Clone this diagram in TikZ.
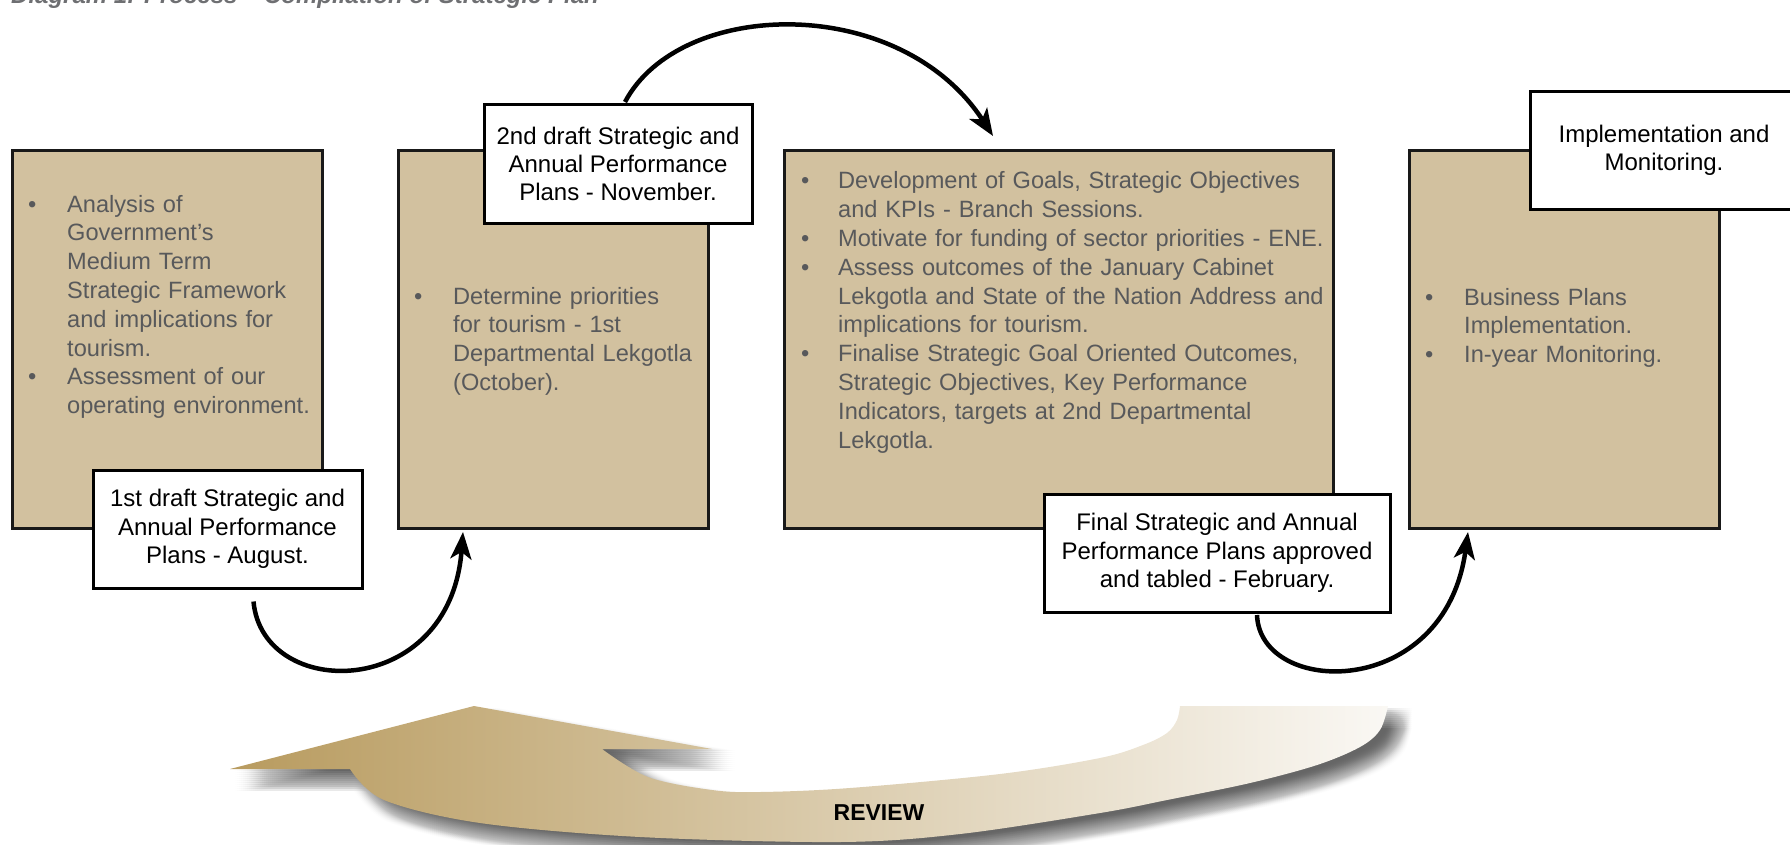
\documentclass[tikz,border=0pt]{standalone}
\usepackage{fontspec}
\setmainfont{Liberation Sans}
\usepackage{xcolor}
\usetikzlibrary{arrows.meta, calc}
\definecolor{stagefill}{RGB}{210,193,159}
\definecolor{stagetext}{RGB}{88,89,91}
\definecolor{titlegray}{RGB}{110,111,114}
\definecolor{reviewdark}{RGB}{184,155,95}
\definecolor{reviewmid}{RGB}{211,193,153}
\definecolor{reviewlight}{RGB}{250,248,244}
\newcommand{\bul}[2][39pt]{\noindent\hangindent=#1\hangafter=1\makebox[#1][l]{\textbullet}#2\par}

\begin{document}
\begin{tikzpicture}[
    x=1pt, y=-1pt,
    stage/.style={draw=black!90, line width=3pt, fill=stagefill, minimum width=310pt, minimum height=378pt, inner sep=0pt},
    wide/.style={minimum width=549pt},
    stagetxt/.style={anchor=base west, inner sep=0pt, text width=#1, align=left, text=stagetext, font=\fontsize{23.6}{28.8}\selectfont},
    stagetxt/.default=300pt,
    callout/.style={draw=black, line width=3pt, fill=white, minimum width=268pt, minimum height=118pt, inner sep=0pt, align=center, font=\fontsize{24}{28.3}\selectfont},
    arr/.style={-{Stealth[length=27pt, width=21pt, inset=7pt]}, line width=4.5pt},
    review path/.style={insert path={
        (1388,706) -- (1180,706)
        -- plot[smooth, tension=0.55] coordinates {(1180,706) (1177,720) (1167,733) (1143,745) (1100,758) (1000,774) (850,788) (760,792) (712,790) (648,777) (602,749)}
        -- (712,749) -- (474,706) -- (230,769) -- (350,769)
        -- plot[smooth, tension=0.55] coordinates {(350,769) (384,800) (480,823) (640,837) (840,842) (960,834) (1100,813) (1167,800) (1250,783) (1317,765) (1360,747) (1380,730) (1388,706)}
        -- cycle}}
]
\useasboundingbox (0,0) rectangle (1790,845);
\node[anchor=base west, inner sep=0pt, text=titlegray, font=\bfseries\itshape\fontsize{24}{28}\selectfont] (title) at (11,4) {Diagram 1: Process – Compilation of Strategic Plan};

\foreach \dx in {-10,-8,...,10}
    \foreach \dy in {-10,-8,...,10}
        \fill[shift={(14+\dx,12+\dy)}, review path, black, opacity=0.006];
\shade[review path, left color=reviewdark, middle color=reviewmid, right color=reviewlight];
\node[font=\bfseries\fontsize{23}{26}\selectfont] (review) at (879,813) {REVIEW};

\node[stage] (analysis) at (167.5,339.5) {};
\node[stage] (priorities) at (553.5,339.5) {};
\node[stage, wide] (goals) at (1058.5,339.5) {};
\node[stage] (business) at (1564.5,339.5) {};

\node[stagetxt] (analysis-txt) at (28,212) {\bul{Analysis of\newline Government’s\newline Medium Term\newline Strategic Framework\newline and implications for\newline tourism.}\bul{Assessment of our\newline operating environment.}};
\node[stagetxt] (priorities-txt) at (414,304) {\bul{Determine priorities\newline for tourism - 1st\newline Departmental Lekgotla\newline (October).}};
\node[stagetxt=580pt] (goals-txt) at (801,189) {\bul[37pt]{Development of Goals, Strategic Objectives\newline and KPIs - Branch Sessions.}\bul[37pt]{Motivate for funding of sector priorities - ENE.}\bul[37pt]{Assess outcomes of the January Cabinet\newline Lekgotla and State of the Nation Address and\newline implications for tourism.}\bul[37pt]{Finalise Strategic Goal Oriented Outcomes,\newline Strategic Objectives, Key Performance\newline Indicators, targets at 2nd Departmental\newline Lekgotla.}};
\node[stagetxt] (business-txt) at (1425,305) {\bul{Business Plans\newline Implementation.}\bul{In-year Monitoring.}};

\node[callout, minimum width=269pt] (draft1) at (227.5,529) {1st draft Strategic and\\Annual Performance\\Plans - August.};
\node[callout] (draft2) at (618,164) {2nd draft Strategic and\\Annual Performance\\Plans - November.};
\node[callout, minimum width=346pt] (final) at (1217,553) {Final Strategic and Annual\\Performance Plans approved\\and tabled - February.};
\node[callout] (implement) at (1664,150.5) {Implementation and\\Monitoring.};

\draw[arr] ($(draft1.south)+(26,12)$) .. controls +(9,100) and +(-13,169) .. ($(priorities.south)+(-90.5,2)$);
\draw[arr] ($(draft2.north)+(7,-1.5)$) .. controls +(55,-104) and +(-93,-143) .. ($(goals.north)+(-65.5,-13)$);
\draw[arr] ($(final.south)+(40,1.5)$) .. controls +(3,82) and +(-23,169) .. ($(business.south)+(-96.5,2)$);
\end{tikzpicture}
\end{document}
